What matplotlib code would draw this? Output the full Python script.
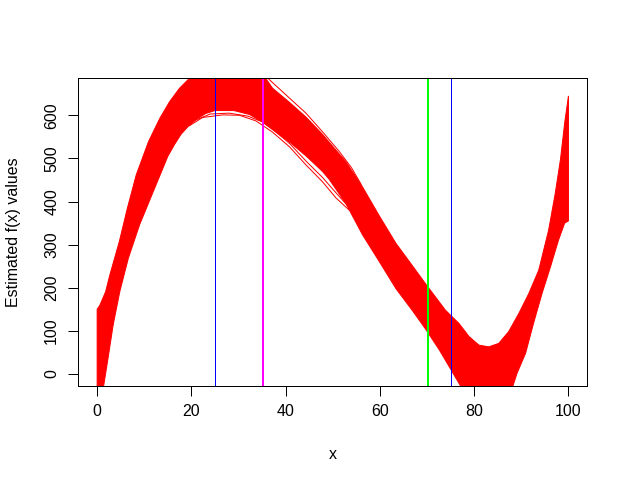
import numpy as np
import matplotlib
matplotlib.use('Agg')
from matplotlib import pyplot as plt
from matplotlib import transforms

plt.rcParams['font.family'] = ['Liberation Sans', 'DejaVu Sans']

# outline of the band of red fitted curves
upper_x = [0, 0.6, 1.8, 2.7, 4.7, 6.4, 8.3, 10.9, 13.3, 15.4, 17.5, 19.6, 23, 28, 33,
           35.5, 37.2, 40.8, 44.3, 47.8, 49.2, 52.8, 56.3, 59.8, 63.4, 66.9, 69.7,
           73.9, 76.8, 78.9, 81, 83.1, 85.2, 87.3, 89.5, 91.6, 93.7, 95.8, 97.2,
           98.3, 99.2, 100]
upper_y = [150, 160, 191, 230, 307, 384, 462, 539, 593, 632, 663, 686, 715, 730, 715,
           690, 663, 630, 596, 556, 538, 492, 434, 368, 303, 251, 209,
           148, 117, 87, 67, 63, 71, 98, 141, 187, 241, 334, 419,
           497, 582, 645]

lower_x = [0, 1.3, 2.3, 3.4, 4.8, 6.6, 9.0, 11.9, 15.0, 16.4, 17.8, 19.3, 21, 23, 25,
           29, 32.3, 35, 37.2, 40.8, 44.3, 47.8, 49.2, 52.8, 56.3, 59.8, 63.4, 66.9,
           69.7, 72.6, 74.7, 77.5, 88, 89.1, 90.9, 92.6, 94.4, 96.2, 97.9, 99.2, 100]
lower_y = [-40, -33, 36, 114, 191, 268, 346, 423, 505, 532, 556, 574, 590, 604, 611,
           611, 602, 585, 567, 538, 506, 470, 452, 395, 323, 262, 198, 147,
           104, 56, 17, -35, -35, 2, 48, 118, 187, 249, 311, 350, 355]

# a few single curves that stray outside the band
stray_a_x = [19.6, 22.4, 26.7, 30.2, 33.7, 37.2, 40.8, 44.3, 47.8, 50.7, 53.5]
stray_a_y = [576, 595, 601, 600, 587, 561, 527, 485, 446, 408, 380]
stray_b_x = [20, 24, 28, 32, 35, 37.2, 40.8, 44.3, 47.8, 50.7, 53.5]
stray_b_y = [585, 603, 605, 598, 585, 568, 535, 494, 456, 420, 386]
stray_c_x = [35.8, 40.8, 44.3, 47.8, 51.3, 54, 56]
stray_c_y = [690, 640, 605, 562, 517, 478, 440]

blue_v = [25, 75]
pink_green_v = [35, 70]

x_ticks = [0, 20, 40, 60, 80, 100]
y_ticks = [0, 100, 200, 300, 400, 500, 600]

px = 0.72  # one pixel in points at dpi 100
fs = 11.5

fig = plt.figure(figsize=(6.28, 4.84), dpi=100)
ax = fig.add_axes([78.3 / 628, 1 - 386 / 484, 509 / 628, 307.7 / 484])

band_x = np.r_[upper_x, lower_x[::-1]]
band_y = np.r_[upper_y, lower_y[::-1]]
ax.fill(band_x, band_y, facecolor='red', edgecolor='red', linewidth=px)
for sx, sy in [(stray_a_x, stray_a_y), (stray_b_x, stray_b_y), (stray_c_x, stray_c_y)]:
    ax.plot(sx, sy, color='red', linewidth=px)

for v in blue_v:
    ax.axvline(v, color='blue', linewidth=px)


def shifted(dx):
    return transforms.offset_copy(ax.transData, fig=fig, x=dx, y=0, units='dots')


# at 35 magenta sits over a green line, at 70 green sits over a magenta line
v35, v70 = pink_green_v
ax.plot([v35, v35], [-100, 800], color='#00FF00', linewidth=px, transform=shifted(-0.5))
ax.plot([v35, v35], [-100, 800], color='#FF00FF', linewidth=2 * px, transform=shifted(0.5))
ax.plot([v70, v70], [-100, 800], color='#FF00FF', linewidth=px, transform=shifted(-0.5))
ax.plot([v70, v70], [-100, 800], color='#00FF00', linewidth=2 * px, transform=shifted(0.5))

ax.set_xlim(-4, 104)
ax.set_ylim(-27.8, 685.8)
ax.set_xticks(x_ticks)
ax.set_yticks(y_ticks)
ax.tick_params(length=6.9, width=px, labelsize=fs, color='black')
ax.tick_params(axis='x', pad=6)
ax.tick_params(axis='y', pad=6.9, labelrotation=90)
for lab in ax.get_yticklabels():
    lab.set_verticalalignment('center')
for s in ax.spines.values():
    s.set_linewidth(px)

fig.text(14 / 628, 1 - 232 / 484, 'Estimated f(x) values', rotation=90,
         ha='center', va='center', fontsize=fs)
fig.text(332.8 / 628, 1 - 459 / 484, 'x', ha='center', va='baseline', fontsize=fs)

plt.savefig('out.png', dpi=100)
